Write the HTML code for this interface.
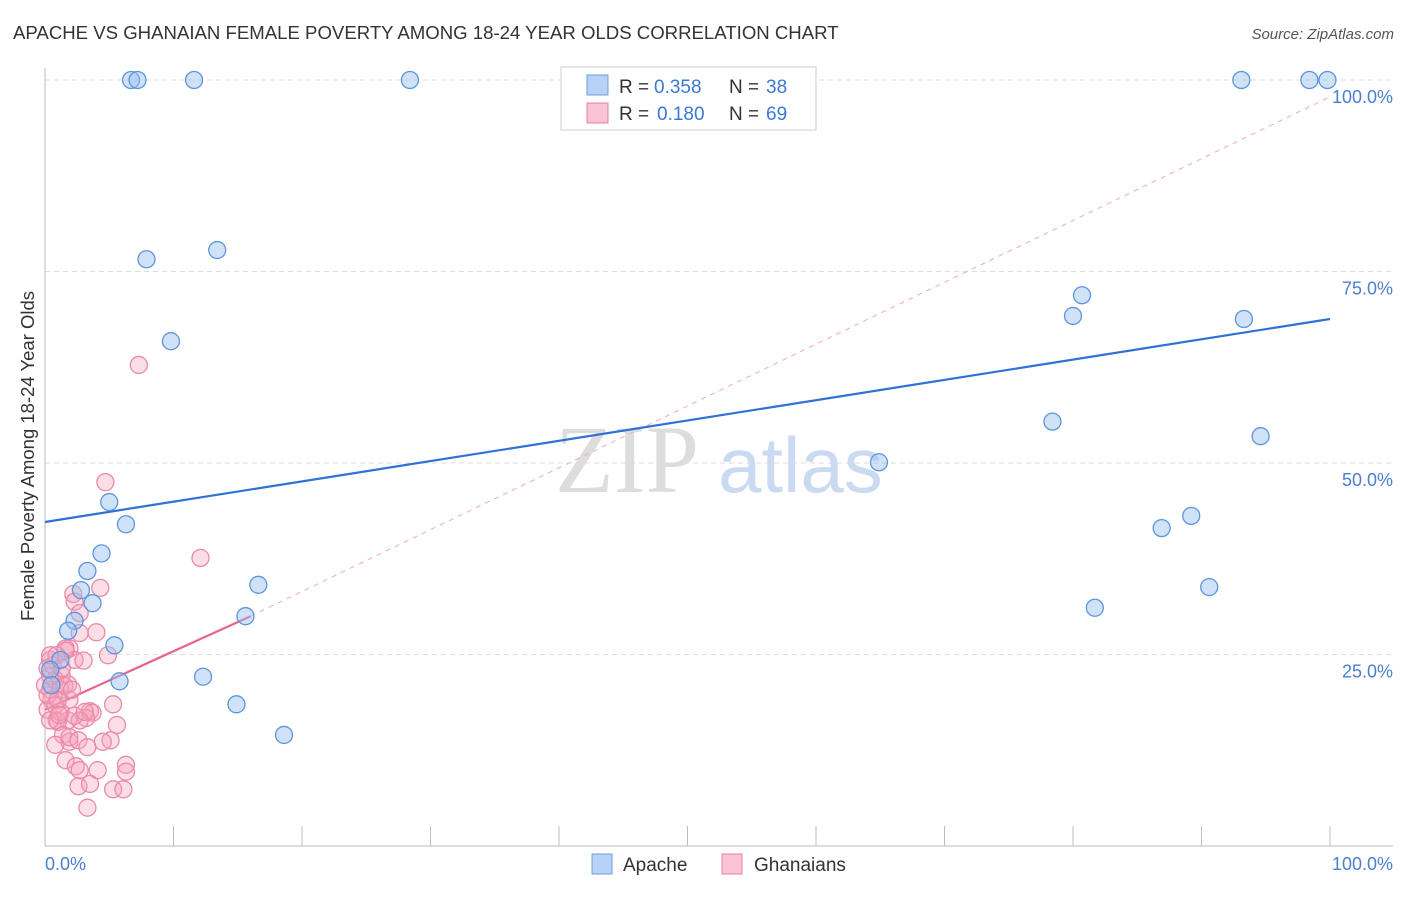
<!DOCTYPE html>
<html><head><meta charset="utf-8"><style>
body{margin:0;background:#fff;font-family:"Liberation Sans",sans-serif}
</style></head><body>
<svg id="chart" width="1406" height="892" xmlns="http://www.w3.org/2000/svg" font-family="Liberation Sans, sans-serif">
<text x="13" y="39" font-size="18.6" fill="#333">APACHE VS GHANAIAN FEMALE POVERTY AMONG 18-24 YEAR OLDS CORRELATION CHART</text>
<text x="1394" y="39" font-size="15" font-style="italic" fill="#555" text-anchor="end">Source: ZipAtlas.com</text>
<text transform="translate(34,456) rotate(-90)" font-size="18.5" fill="#333" text-anchor="middle">Female Poverty Among 18-24 Year Olds</text>
<g>
<text x="555" y="492" font-size="96" font-family="Liberation Serif, serif" fill="#ddd">ZIP</text>
<text x="718" y="492" font-size="78" fill="#c9daf2">atlas</text>
</g>
<g id="grid"></g><g id="axes"></g><g id="trend"></g><g id="pts"></g>
<g>
<rect x="561" y="67" width="255" height="63" fill="#fff" stroke="#ccc"/>
<rect x="587" y="75" width="21" height="20" fill="#b7d2f4" stroke="#6a9fe0"/>
<rect x="587" y="103" width="21" height="20" fill="#f9c3d3" stroke="#e87fa0"/>
<text x="619" y="93" font-size="19" fill="#333">R =</text>
<text x="654" y="93" font-size="19" fill="#3a78d8">0.358</text>
<text x="729" y="93" font-size="19" fill="#333">N =</text>
<text x="766" y="93" font-size="19" fill="#3a78d8">38</text>
<text x="619" y="120" font-size="19" fill="#333">R =</text>
<text x="657" y="120" font-size="19" fill="#3a78d8">0.180</text>
<text x="729" y="120" font-size="19" fill="#333">N =</text>
<text x="766" y="120" font-size="19" fill="#3a78d8">69</text>
</g>
<g>
<rect x="592" y="854" width="20" height="20" fill="#b7d2f4" stroke="#6a9fe0"/>
<text x="623" y="871" font-size="19" fill="#333">Apache</text>
<rect x="722" y="854" width="20" height="20" fill="#f9c3d3" stroke="#e87fa0"/>
<text x="754" y="871" font-size="19" fill="#333">Ghanaians</text>
</g>
</svg>
<script>
const apacheX=[6.7,7.2,11.6,28.4,93.1,98.4,99.8,7.9,13.4,9.8,5.0,6.3,4.4,3.3,2.8,3.7,2.3,1.8,5.4,1.2,5.8,0.4,0.5,16.6,15.6,12.3,14.9,18.6,64.9,80.7,80.0,78.4,93.3,94.6,86.9,89.2,81.7,90.6];
const apacheY=[100,100,100,100,100,100,100,76.6,77.8,65.9,44.9,42.0,38.2,35.9,33.4,31.7,29.4,28.1,26.2,24.3,21.5,23.0,21.0,34.1,30.0,22.1,18.5,14.5,50.1,71.9,69.2,55.4,68.8,53.5,41.5,43.1,31.1,33.8];
const ghanaX=[7.3,4.7,12.1,4.3,2.2,2.3,2.7,4.0,2.7,1.9,4.9,0.4,2.3,3.0,1.3,0.2,0.8,1.8,0.4,1.2,1.5,0.5,1.9,5.3,0.2,0.9,1.8,3.5,3.7,3.2,1.0,2.7,5.6,1.4,1.9,1.9,5.1,4.5,2.6,3.3,1.6,2.4,2.7,4.1,6.3,6.3,2.6,3.5,5.3,6.1,3.3,0.8,0.4,1.2,2.3,3.1,0.2,0.6,1.6,1.0,2.1,0,0.4,0.8,1.6,1.1,1.3,0.9,0.4];
const ghanaY=[62.8,47.5,37.6,33.7,32.9,31.9,30.4,27.9,27.8,25.8,24.9,24.3,24.3,24.2,22.3,23.2,21.7,21.1,20.4,20.4,20.9,19.1,19.1,18.5,17.8,16.4,16.4,17.6,17.4,16.7,16.2,16.4,15.8,14.5,13.6,14.2,13.8,13.6,13.8,12.9,11.2,10.4,9.9,9.9,10.6,9.7,7.8,8.1,7.4,7.4,5.0,18.4,22.2,17.5,17.0,17.5,19.7,23.6,25.8,19.1,20.4,21.0,16.4,13.2,25.5,17.1,23.2,24.9,24.9];
const yTicks=[25,50,75,100];
const yTickLabels=["25.0%","50.0%","75.0%","100.0%"];
const xTicks=[0,10,20,30,40,50,60,70,80,90,100];
const apacheTrend=[[0,42.3],[100,68.8]];
const ghanaTrend=[[0,17.8],[16,30.0]];
const ghanaDash=[[16,30.0],[100,97.8]];
const sx=v=>45+v*12.85, sy=v=>846-v*7.66;
const NS="http://www.w3.org/2000/svg";
function mk(p,t,a){const e=document.createElementNS(NS,t);for(const k in a)e.setAttribute(k,a[k]);p.appendChild(e);return e;}
const grid=document.getElementById('grid'),axes=document.getElementById('axes'),trend=document.getElementById('trend'),pts=document.getElementById('pts');
yTicks.forEach((v,i)=>{
 const l=mk(grid,'line',{x1:45,x2:1393,y1:sy(v),y2:sy(v),stroke:'#ddd','stroke-dasharray':'5,4'});
 
 
 const t=mk(axes,'text',{x:1393,y:sy(v)+23,'font-size':18,fill:'#4a7fd0','text-anchor':'end'});
 t.textContent=yTickLabels[i];
 
 
});
let a=mk(axes,'line',{x1:45,x2:45,y1:68,y2:846,stroke:'#bbb'});


a=mk(axes,'line',{x1:45,x2:1393,y1:846,y2:846,stroke:'#bbb'});


xTicks.forEach(v=>{const t=mk(axes,'line',{x1:sx(v),x2:sx(v),y1:826,y2:846,stroke:'#bbb'});
 
 });
let xl=mk(axes,'text',{x:45,y:870,'font-size':18,fill:'#4a7fd0'});xl.textContent='0.0%';


xl=mk(axes,'text',{x:1393,y:870,'font-size':18,fill:'#4a7fd0','text-anchor':'end'});xl.textContent='100.0%';


function seg(s,st,name,dash,w){const l=mk(trend,'line',{x1:sx(s[0][0]),y1:sy(s[0][1]),x2:sx(s[1][0]),y2:sy(s[1][1]),stroke:st,'stroke-width':w});
 if(dash)l.setAttribute('stroke-dasharray',dash);
 
 }
seg(ghanaDash,'#f0a8bd','ghanaians-trend-extension','5,5',1);
seg(apacheTrend,'#2f72d6','apache-trend-line',null,2.2);
seg(ghanaTrend,'#e8648e','ghanaians-trend-line',null,2.2);
ghanaX.forEach((x,i)=>{const c=mk(pts,'circle',{cx:sx(x),cy:sy(ghanaY[i]),r:8.5,fill:'rgba(245,160,185,0.35)',stroke:'#ea8aa8','stroke-width':1.3});
 
 });
apacheX.forEach((x,i)=>{const c=mk(pts,'circle',{cx:sx(x),cy:sy(apacheY[i]),r:8.5,fill:'rgba(150,190,240,0.45)',stroke:'#5e95dc','stroke-width':1.3});
 
 });
</script>
</body></html>
